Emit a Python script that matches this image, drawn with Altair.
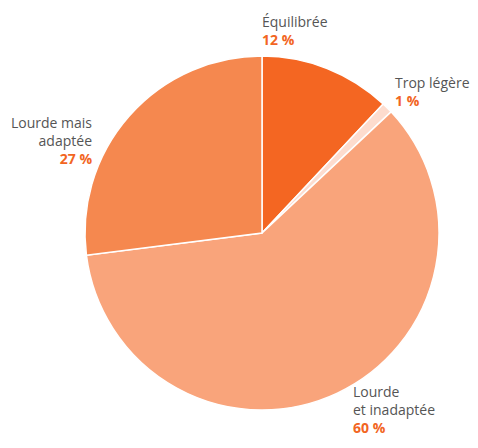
import altair as alt
import pandas as pd

categories = ["Équilibrée", "Trop légère", "Lourde et inadaptée", "Lourde mais adaptée"]
values = [12, 1, 60, 27]
label_texts = ["Équilibrée", "Trop légère", "Lourde\net inadaptée", "Lourde mais\nadaptée"]
colors = ["#F46622", "#FDDCCE", "#F9A47B", "#F5884F"]

df = pd.DataFrame({"cat": categories, "val": values, "idx": list(range(len(values)))})

CX, CY, R = 254, 225, 177

pie = alt.Chart(df).mark_arc(outerRadius=R, stroke="white", strokeWidth=1.5).encode(
    theta=alt.Theta("val:Q", stack=True),
    color=alt.Color("cat:N", scale=alt.Scale(domain=categories, range=colors), legend=None),
    order=alt.Order("idx:Q"),
    x=alt.value(CX),
    y=alt.value(CY),
)

# label placement (annotation anchors), in chart pixels: x, y, align, lines, line height
anchors = [
    (254, 19, "left", 1, 18),
    (387, 80, "left", 1, 18),
    (345, 389, "left", 2, 18),
    (84, 120, "right", 2, 18),
]

layers = [pie]
for i, (ax, ay, al, nlines, lh) in enumerate(anchors):
    d = pd.DataFrame({"t": [label_texts[i]], "p": [f"{values[i]} %"]})
    lab = alt.Chart(d).mark_text(
        align=al, baseline="alphabetic", lineBreak="\n", lineHeight=lh,
        font="Open Sans", fontSize=14, color="#555555"
    ).encode(text="t:N", x=alt.value(ax), y=alt.value(ay))
    pct = alt.Chart(d).mark_text(
        align=al, baseline="alphabetic", font="Open Sans", fontSize=14,
        fontWeight="bold", color="#F26522"
    ).encode(text="p:N", x=alt.value(ax), y=alt.value(ay + lh * nlines))
    layers += [lab, pct]

chart = alt.layer(*layers).properties(
    width=462, height=430, padding=0, autosize=alt.AutoSizeParams(type="none")
).configure_view(stroke=None)

chart.save("out.html", embed_options={"renderer": "svg", "actions": False})
